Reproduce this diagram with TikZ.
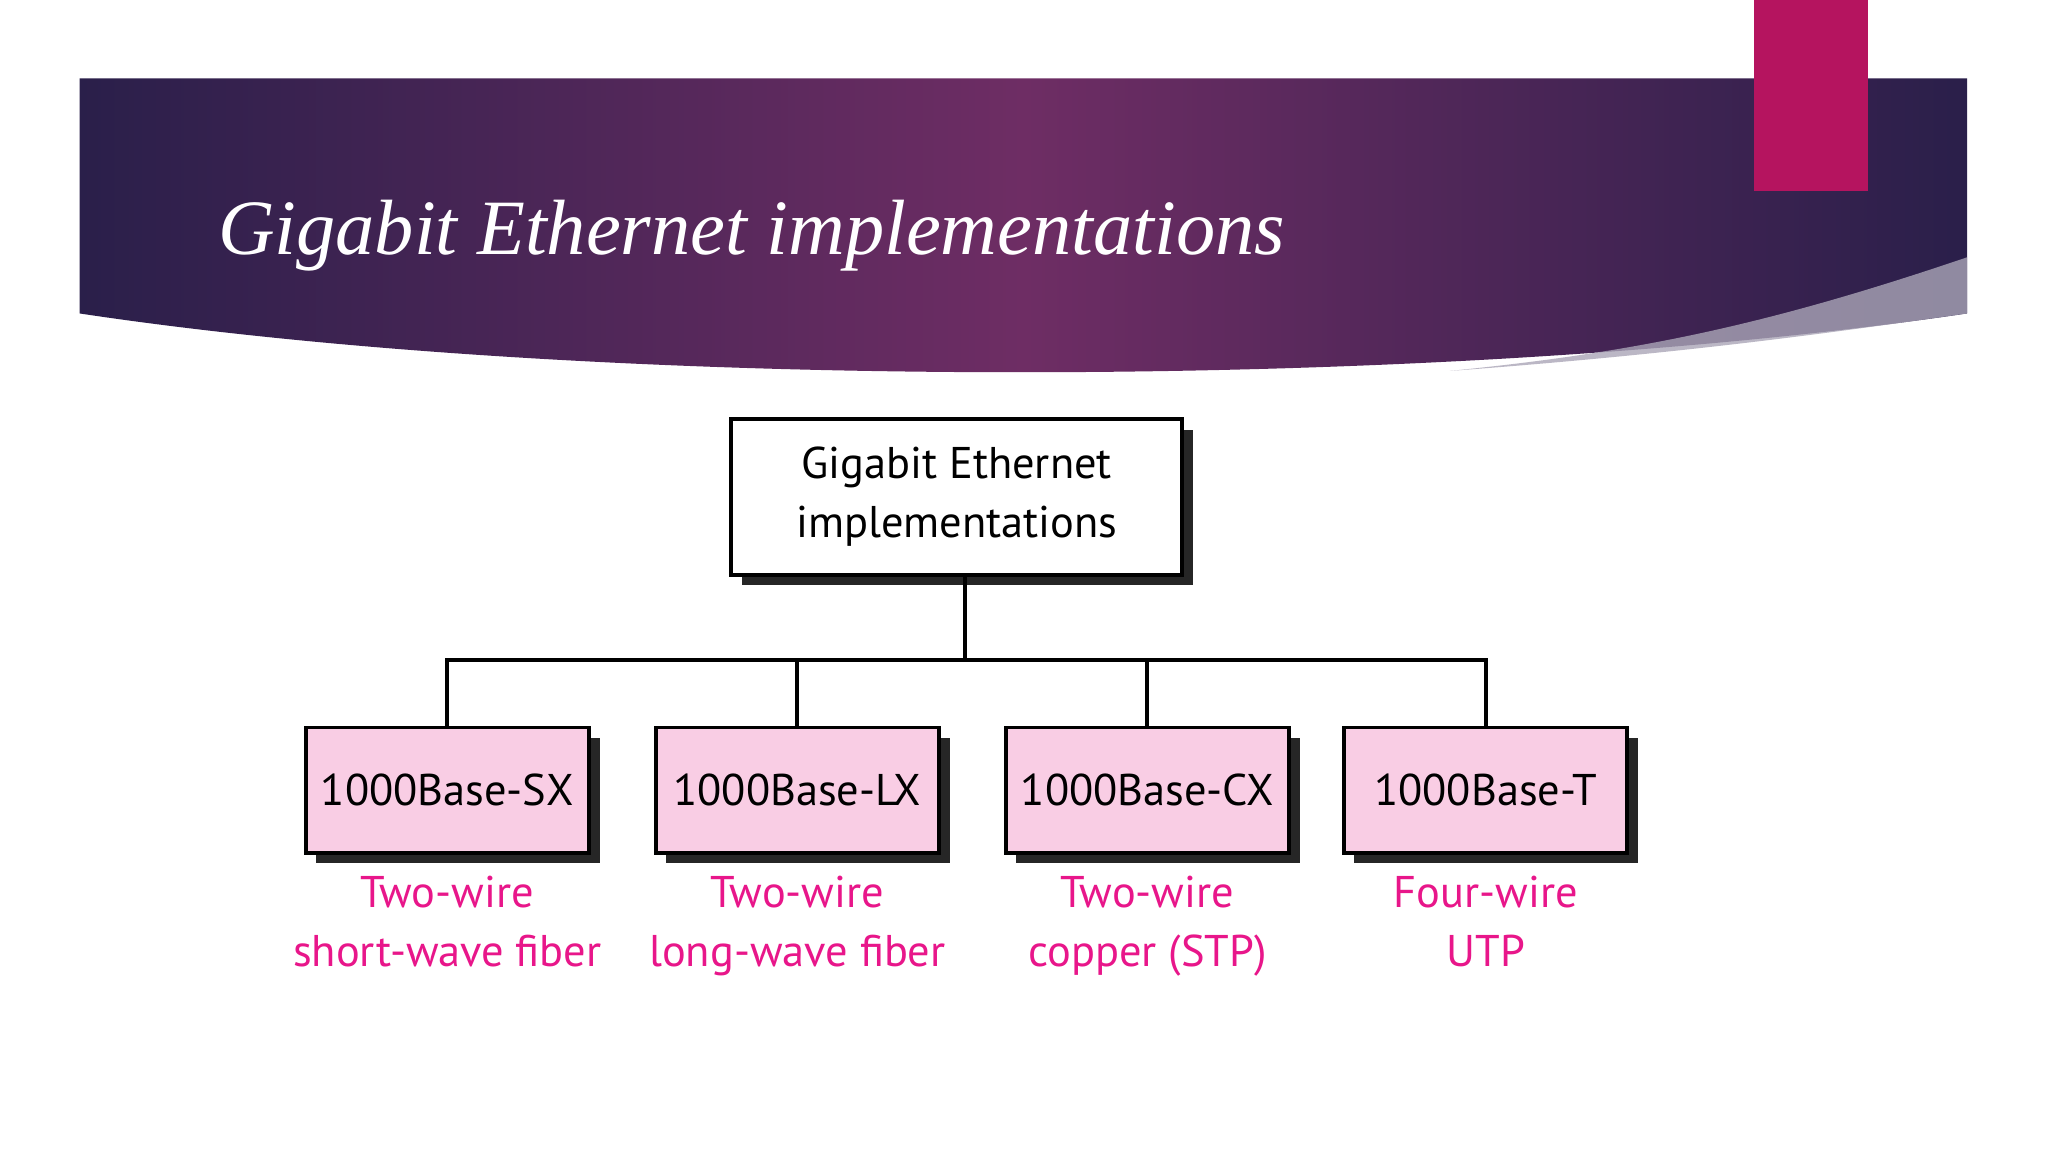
\documentclass[tikz,border=0pt]{standalone}
\usepackage{fontspec}
\setmainfont{Liberation Serif}
\newfontfamily\boxfont{PT Sans}
\usetikzlibrary{shadows}
\definecolor{bandA}{HTML}{2A1F4A}
\definecolor{bandB}{HTML}{6E2D64}
\definecolor{magbar}{HTML}{B5145F}
\definecolor{pinkfill}{HTML}{F9CDE4}
\definecolor{pinktext}{HTML}{E8168A}
\tikzset{
 boxstyle/.style={draw=black,line width=1.5pt,fill=pinkfill,minimum width=108.5pt,minimum height=48pt,inner sep=0pt,
   font=\boxfont\fontsize{17}{20}\selectfont,
   drop shadow={shadow xshift=4pt,shadow yshift=-4pt,fill=black!85,opacity=1}},
 labelstyle/.style={text=pinktext,font=\boxfont\fontsize{17}{22.5}\selectfont,align=center,anchor=north},
 wire/.style={line width=1.5pt}
}
\begin{document}
\begin{tikzpicture}[x=0.5pt,y=-0.5pt]
\useasboundingbox (0,0) rectangle (1568,882);
\fill[white] (0,0) rectangle (1568,882);
% banner
\shade[left color=bandA,right color=bandA,middle color=bandB]
 (61,60) -- (1506,60) -- (1506,240) .. controls (1100,300) and (460,300) .. (61,240) -- cycle;
\fill[white!60!bandA,opacity=0.8] (1506,197) .. controls (1350,250) and (1250,270) .. (1110,284) .. controls (1300,270) and (1420,252) .. (1506,240) -- cycle;
\fill[magbar] (1343,0) rectangle (1430,146);
\node[anchor=base west,text=white,font=\itshape\fontsize{30}{36}\selectfont] (title) at (160,195) {Gigabit Ethernet implementations};
% root
\node[boxstyle,fill=white,minimum width=172.5pt,minimum height=59.5pt,align=center,font=\boxfont\fontsize{17}{22.5}\selectfont] (root) at (732.5,380.5) {Gigabit Ethernet\\implementations};
\node[boxstyle] (sx) at (342.5,605) {1000Base-SX};
\node[boxstyle] (lx) at (610.5,605) {1000Base-LX};
\node[boxstyle] (cx) at (878.5,605) {1000Base-CX};
\node[boxstyle] (t) at (1137.5,605) {1000Base-T};
\coordinate (bus) at (739,505);
\draw[wire] (root.south -| bus) -- (bus);
\draw[wire] (sx.north) |- (bus) -| (t.north);
\draw[wire] (lx.north) -- (lx.north |- bus);
\draw[wire] (cx.north) -- (cx.north |- bus);
\node[labelstyle] (lsx) at (342.5,664) {Two-wire\\short-wave fiber};
\node[labelstyle] (llx) at (610.5,664) {Two-wire\\long-wave fiber};
\node[labelstyle] (lcx) at (878.5,664) {Two-wire\\copper (STP)};
\node[labelstyle] (lt) at (1137.5,664) {Four-wire\\UTP};
\end{tikzpicture}
\end{document}
